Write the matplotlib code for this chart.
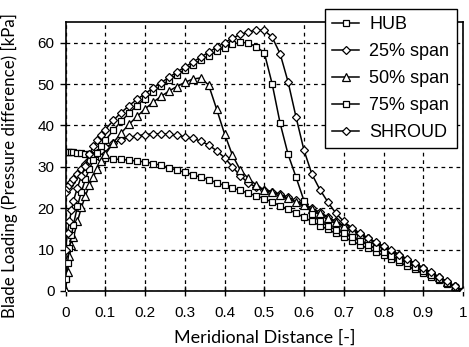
"""Blade loading along meridional distance for five span positions."""

import matplotlib
matplotlib.use("Agg")
import matplotlib.pyplot as plt

# ---------------------------------------------------------------------------
# Data
# ---------------------------------------------------------------------------
x_mer = [0.0, 0.005, 0.01, 0.015, 0.02, 0.03, 0.04, 0.05, 0.06, 0.07, 0.08,
         0.09, 0.10, 0.12, 0.14, 0.16, 0.18, 0.20, 0.22, 0.24, 0.26, 0.28,
         0.30, 0.32, 0.34, 0.36, 0.38, 0.40, 0.42, 0.44, 0.46, 0.48, 0.50,
         0.52, 0.54, 0.56, 0.58, 0.60, 0.62, 0.64, 0.66, 0.68, 0.70, 0.72,
         0.74, 0.76, 0.78, 0.80, 0.82, 0.84, 0.86, 0.88, 0.90, 0.92, 0.94,
         0.96, 0.98, 1.00]

hub = [33.6, 33.6, 33.6, 33.5, 33.5, 33.4, 33.3, 33.2, 33.0, 32.8, 32.6,
       32.4, 32.2, 31.9, 31.8, 31.6, 31.4, 31.2, 30.8, 30.4, 29.8, 29.2,
       28.7, 28.1, 27.5, 26.9, 26.2, 25.5, 24.9, 24.3, 23.6, 23.0, 22.3,
       21.5, 20.6, 19.7, 18.8, 17.8, 16.8, 15.8, 14.9, 13.9, 13.0, 12.1,
       11.2, 10.3, 9.4, 8.6, 7.7, 6.9, 6.0, 5.2, 4.3, 3.5, 2.6,
       1.7, 0.9, 0.0]

span25 = [24.0, 24.8, 25.6, 26.3, 27.0, 28.3, 29.5, 30.6, 31.6, 32.5, 33.3,
          34.0, 34.7, 35.7, 36.5, 37.1, 37.5, 37.8, 38.0, 38.0, 37.9, 37.6,
          37.3, 36.9, 36.2, 35.3, 33.9, 32.2, 30.0, 27.8, 26.1, 25.1, 24.5,
          24.0, 23.4, 22.7, 21.9, 21.0, 20.0, 19.0, 17.9, 16.8, 15.8, 14.8,
          13.8, 12.7, 11.7, 10.7, 9.7, 8.6, 7.6, 6.5, 5.5, 4.4, 3.3,
          2.2, 1.1, 0.0]

span50 = [0.0, 4.5, 8.5, 11.0, 13.0, 16.8, 20.2, 23.0, 25.5, 27.6, 29.5,
          31.3, 33.0, 35.8, 38.2, 40.3, 42.2, 44.0, 45.6, 47.0, 48.3, 49.4,
          50.4, 51.2, 51.5, 49.8, 44.0, 38.0, 32.8, 29.2, 27.2, 25.6, 24.4,
          23.9, 23.3, 22.4, 21.6, 20.8, 19.8, 18.8, 17.7, 16.7, 15.7, 14.7,
          13.7, 12.7, 11.7, 10.7, 9.7, 8.6, 7.6, 6.5, 5.5, 4.4, 3.3,
          2.2, 1.1, 0.0]

span75 = [3.0, 6.8, 10.5, 13.5, 16.0, 20.5, 24.0, 27.0, 29.5, 31.6, 33.4,
          35.0, 36.4, 38.8, 41.0, 43.0, 44.8, 46.5, 48.1, 49.6, 51.0, 52.3,
          53.5, 54.7, 55.8, 56.9, 57.9, 58.8, 59.6, 60.1, 59.9, 59.0, 57.6,
          50.0, 40.5, 33.0, 27.5, 21.8, 18.5, 16.8, 15.7, 14.8, 13.9, 13.0,
          12.1, 11.2, 10.3, 9.4, 8.5, 7.6, 6.7, 5.8, 4.9, 3.9, 2.9,
          2.0, 1.0, 0.0]

shroud = [10.0, 14.0, 17.0, 19.5, 21.8, 25.0, 27.8, 30.3, 33.0, 35.0, 36.5,
          37.8, 39.0, 41.2, 43.1, 44.8, 46.3, 47.7, 49.0, 50.3, 51.6, 52.9,
          54.1, 55.3, 56.5, 57.7, 58.9, 60.0, 61.1, 62.0, 62.6, 63.1, 63.0,
          61.3, 57.3, 50.5, 42.0, 34.0, 28.2, 24.5, 21.5, 18.8, 16.8, 15.3,
          14.0, 12.9, 11.8, 10.8, 9.8, 8.8, 7.7, 6.7, 5.6, 4.5, 3.4,
          2.3, 1.1, 0.0]

series = [
    ("HUB", hub, "s", 4.2),
    ("25% span", span25, "D", 3.9),
    ("50% span", span50, "^", 5.2),
    ("75% span", span75, "s", 4.2),
    ("SHROUD", shroud, "D", 3.9),
]

x_ticks = [0, 0.1, 0.2, 0.3, 0.4, 0.5, 0.6, 0.7, 0.8, 0.9, 1]
x_ticklabels = ["0", "0.1", "0.2", "0.3", "0.4", "0.5", "0.6", "0.7", "0.8",
                "0.9", "1"]
y_ticks = [0, 10, 20, 30, 40, 50, 60]

# ---------------------------------------------------------------------------
# Figure
# ---------------------------------------------------------------------------
fig = plt.figure(figsize=(4.69, 3.47), dpi=100)
ax = fig.add_axes([0.1397, 0.1614, 0.8475, 0.7752])

for label, yvals, mk, ms in series:
    ax.plot(x_mer, yvals, color="black", lw=1.1, marker=mk, ms=ms,
            mfc="white", mec="black", mew=0.9, label=label, zorder=3)

ax.set_xlim(0, 1)
ax.set_ylim(0, 65)
ax.set_xticks(x_ticks)
ax.set_xticklabels(x_ticklabels)
ax.set_yticks(y_ticks)

for lab in ax.get_xticklabels() + ax.get_yticklabels():
    lab.set_fontfamily("Liberation Sans")
    lab.set_fontsize(11)

ax.tick_params(axis="x", direction="inout", length=7, width=1.0, pad=7)
ax.tick_params(axis="y", direction="out", length=4, width=1.0, pad=4)

ax.grid(True, color="black", ls=(0, (3, 3)), lw=0.9, zorder=0)
ax.set_axisbelow(True)
for sp in ax.spines.values():
    sp.set_linewidth(1.2)
    sp.set_color("black")

ax.set_xlabel("Meridional Distance [-]", family="Lato", fontsize=13)
ax.set_ylabel("Blade Loading (Pressure difference) [kPa]", family="Lato",
              fontsize=12.2)
ax.xaxis.set_label_coords(0.5, -0.145)
ax.yaxis.set_label_coords(-0.12, 0.468)

leg = ax.legend(loc="upper left", bbox_to_anchor=(325 / 469, 1 - 9 / 347),
                bbox_transform=fig.transFigure, borderaxespad=0,
                prop=dict(family="Liberation Sans", size=13),
                frameon=True, fancybox=False, framealpha=1.0,
                edgecolor="black", handlelength=1.5, handletextpad=0.55,
                labelspacing=0.55, borderpad=0.4)
leg.get_frame().set_linewidth(1.0)
leg.set_zorder(10)

fig.savefig("out.png", dpi=100, facecolor="white")
